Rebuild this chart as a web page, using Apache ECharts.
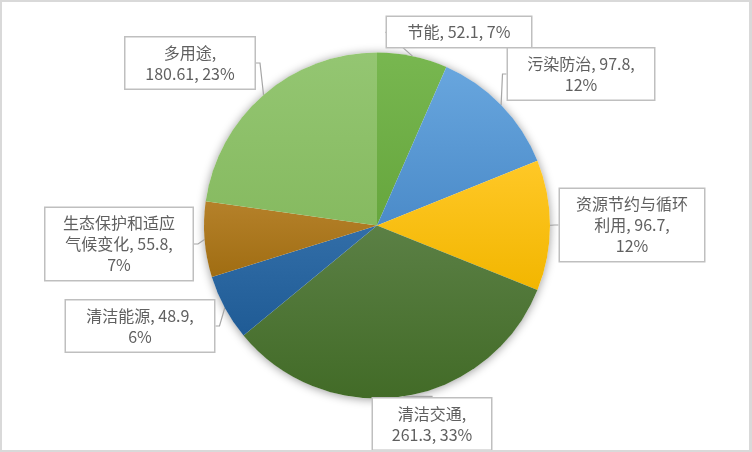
<!DOCTYPE html>
<html><head><meta charset="utf-8">
<script src="https://cdn.jsdelivr.net/npm/echarts@6/dist/echarts.min.js"></script>
<style>
html,body{margin:0;padding:0;background:#fff}
#c{width:752px;height:452px}
#f{position:absolute;left:0;top:0;width:752px;height:452px;box-sizing:border-box;border:2px solid #d9d9d9;border-right-width:3px;pointer-events:none}
</style>
</head><body><div id="c"></div><div id="f"></div>
<script>
const categories = ['节能','污染防治','资源节约与循环利用','清洁交通','清洁能源','生态保护和适应气候变化','多用途'];
const values = [52.1, 97.8, 96.7, 261.3, 48.9, 55.8, 180.61];

// styling (not data)
const gradTop    = ['#78b750','#68a6de','#ffc827','#5b8045','#326ea8','#b5812a','#94c672'];
const gradBottom = ['#66a63d','#4b8bc9','#f2b600','#426b27','#1f5b95','#a06d12','#86ba60'];
// [wrap name after n chars, break after name, break after value]
const wraps = [[0,0,0],[0,0,1],[7,0,1],[0,1,0],[0,0,1],[7,0,1],[0,1,0]];
const labelPos = [[459,32],[581,74],[632,225],[432,424],[140,326],[119,244],[190,63]];
const labelWidth = [130,132,130,104,134,133,115];

const total = values.reduce((a,b)=>a+b,0);
const center = [377, 225.5];
const radius = 173;

const chart = echarts.init(document.getElementById('c'), null, {renderer:'canvas'});
chart.setOption({
  backgroundColor:'#fff',
  animation:false,
  series:[
    {
      type:'pie', silent:true, center:center, radius:radius, z:1,
      label:{show:false}, labelLine:{show:false},
      itemStyle:{color:'#fff', shadowBlur:10, shadowColor:'rgba(0,0,0,0.4)', shadowOffsetY:1},
      data:[{value: total, name:'bg'}]
    },
    {
      type:'pie', center:center, radius:radius, startAngle:90, clockwise:true, z:2,
      percentPrecision:0,
      avoidLabelOverlap:false,
      data: categories.map((n,i)=>({
        name:n, value:values[i],
        label:{width:labelWidth[i]},
        itemStyle:{color:{type:'linear',x:0,y:0,x2:0,y2:1,colorStops:[{offset:0,color:gradTop[i]},{offset:1,color:gradBottom[i]}]}}
      })),
      label:{
        show:true, position:'outside',
        fontFamily:'"Noto Sans CJK SC", "Noto Sans", sans-serif',
        fontSize:16, lineHeight:21, color:'#606060',
        align:'center',
        backgroundColor:'#fff', borderColor:'#bfbfbf', borderWidth:1.5,
        padding:[5,7,4,7],
        formatter:function(p){
          const w = wraps[p.dataIndex];
          let n = p.name;
          if (w[0]) n = n.slice(0,w[0]) + '\n' + n.slice(w[0]);
          return n + ',' + (w[1]?'\n':' ') + p.value + ',' + (w[2]?'\n':' ') + p.percent + '%';
        }
      },
      labelLine:{show:true, length:8, length2:4, lineStyle:{color:'#a6a6a6', width:1.2}},
      labelLayout:function(params){
        const p = labelPos[params.dataIndex];
        return {x:p[0], y:p[1], align:'center', verticalAlign:'middle'};
      }
    }
  ]
});
</script>
</body></html>
